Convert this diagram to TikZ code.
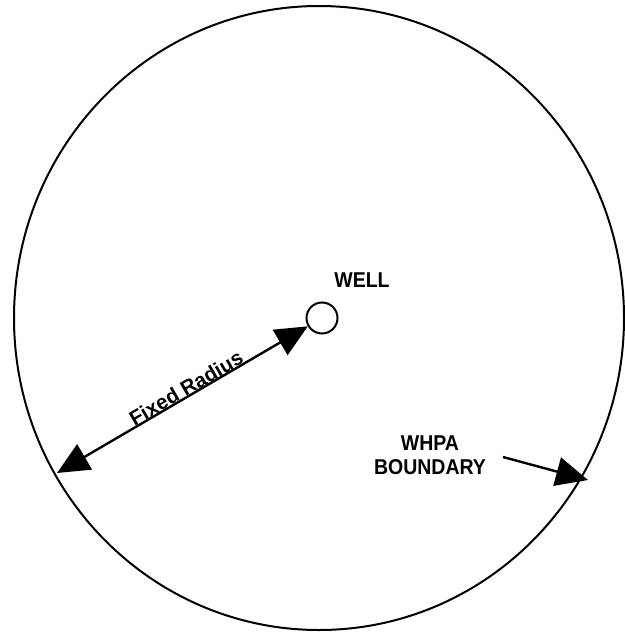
\documentclass[tikz,border=0pt]{standalone}
\usepackage{fontspec}
\setmainfont{Liberation Sans}
\usetikzlibrary{arrows.meta,shapes.geometric}
\begin{document}
\begin{tikzpicture}[x=1pt,y=1pt,
  lbl/.style={font=\bfseries\fontsize{19.5}{22}\selectfont, inner sep=0pt},
  bigtip/.style={-{Triangle[length=32pt,width=29pt]}},
  both/.style={{Triangle[length=32pt,width=29pt]}-{Triangle[length=32pt,width=29pt]}},
  thinline/.style={line width=2pt},
  arrline/.style={line width=2.4pt}]
\useasboundingbox (0,0) rectangle (624,-632);
\fill[white] (0,0) rectangle (624,-632);
\node[draw, thinline, ellipse, minimum width=610pt, minimum height=624pt, inner sep=0pt] (bnd) at (319,-318) {};
\node[draw, line width=2pt, circle, minimum size=31pt, inner sep=0pt] (well) at (322,-318) {};
\node[lbl, yscale=1.1] (welltxt) at (362,-280) {WELL};
\coordinate (lt) at (57,-473);
\draw[arrline, both] (lt) -- (well);
\node[lbl, font=\bfseries\fontsize{20.5}{22}\selectfont, rotate=30.2] (fr) at (186,-388) {Fixed Radius};
\node[lbl, align=center, yscale=1.1] (whpa) at (430,-455.5) {WHPA\\BOUNDARY};
\coordinate (wt) at (503,-457);
\coordinate (wh) at (588,-480);
\draw[arrline, bigtip] (wt) -- (wh);
\end{tikzpicture}
\end{document}
